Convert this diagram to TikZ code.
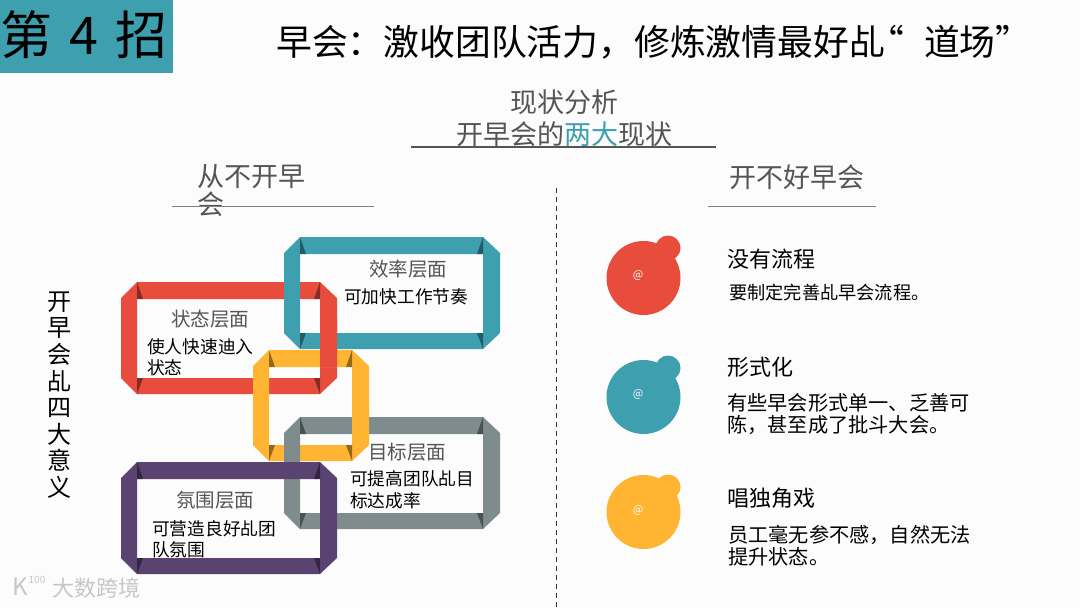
\documentclass[tikz,border=0pt]{standalone}
\usepackage{fontspec}
\setmainfont{Noto Sans CJK SC}
\definecolor{cteal}{HTML}{3E9FAF}
\definecolor{cred}{HTML}{E84C3D}
\definecolor{cyel}{HTML}{FFB531}
\definecolor{cgry}{HTML}{7F8C8D}
\definecolor{cpur}{HTML}{5B4371}
\definecolor{hd}{HTML}{555555}
\newcommand{\fs}[1]{\fontsize{#1}{#1}\selectfont}
\newcommand{\fwcolon}{\char"FF1A\relax}
\newcommand{\fwcomma}{\char"FF0C\relax}
\newcommand{\jichar}{\char"4E69\relax}
\newcommand{\ring}[5]{% x0 y0 x1 y1 colour
  \fill[#5,even odd rule] (#1+16,#2) -- (#3-17,#2) -- (#3,#2+16) -- (#3,#4-16) -- (#3-17,#4) -- (#1+16,#4) -- (#1,#4-16) -- (#1,#2+16) -- cycle
    (#1+16,#2+17) rectangle (#3-17,#4-16);
  \fill[foldshade] (#1+16,#2) -- (#1+16,#2+17) -- (#1+22,#2+17) -- cycle;
  \fill[foldshade] (#3-17,#2) -- (#3-17,#2+17) -- (#3-23,#2+17) -- cycle;
  \fill[foldshade] (#1+16,#4) -- (#1+16,#4-16) -- (#1+22,#4-16) -- cycle;
  \fill[foldshade] (#3-17,#4) -- (#3-17,#4-16) -- (#3-23,#4-16) -- cycle;
}
\tikzset{
  foldshade/.style={black,opacity=.42},
  tl/.style={anchor=west,inner sep=0pt,text=black},
  sec/.style={inner sep=0pt,text=hd},
  hdrule/.style={line width=1.2pt,draw=hd},
  subrule/.style={line width=1.2pt,draw=black!50},
  ringtitle/.style={anchor=west,inner sep=0pt,text=hd},
  ringbody/.style={anchor=west,inner sep=0pt,text=black},
}
\begin{document}
\begin{tikzpicture}[x=1pt,y=-1pt]
\useasboundingbox (0,0) rectangle (1080,608);
\fill[white!99!black] (0,0) rectangle (1080,608);
\fill[cteal] (0,0) rectangle (173,73);
\node[tl] (num) at (0,35) {\fs{52}第\hspace{.33em}4\hspace{.33em}招};
\node[tl] (title) at (276,42) {\fs{35.800}早会\fwcolon 激收团队活力\fwcomma 修炼激情最好\jichar\hspace{-.45em}“\hspace{.55em}道场”};
\node[sec] (a1) at (564,102) {\fs{27}现状分析};
\node[sec] (a2) at (564,134) {\fs{27}开早会的\textcolor{cteal}{两大}现状};
\coordinate (r1a) at (411,147); \coordinate (r1b) at (716,147);
\draw[hdrule] (r1a) -- (r1b);
\node[sec,anchor=west] (l1) at (197,177) {\fs{27}从不开早};
\node[sec,anchor=west] (l2) at (197,204) {\fs{27}会};
\coordinate (r2a) at (172,206.500); \coordinate (r2b) at (374,206.500);
\draw[subrule] (r2a) -- (r2b);
\node[sec] (r1) at (797,177) {\fs{27}开不好早会};
\coordinate (r3a) at (708,206.500); \coordinate (r3b) at (876,206.500);
\draw[subrule] (r3a) -- (r3b);
\coordinate (da) at (556.500,188); \coordinate (db) at (556.500,608);
\draw[line width=1pt,black!80,dash pattern=on 5pt off 4pt] (da) -- (db);
\node[inner sep=0pt,align=center,text=black,font=\fontsize{24}{26.600}\selectfont] (side) at (59,395) {开\\早\\会\\\jichar\\四\\大\\意\\义};
% rings
\ring{121}{282}{337}{394}{cred}
\ring{253}{350}{369}{461}{cyel}
\ring{284}{237}{500}{349}{cteal}
\begin{scope}\clip (320,318) rectangle (337,366);\ring{121}{282}{337}{394}{cred}\end{scope}
\ring{284}{417}{500}{529}{cgry}
\begin{scope}\clip (352,410) rectangle (369,434);\ring{253}{350}{369}{461}{cyel}\end{scope}
\ring{121}{462}{337}{574}{cpur}
\node[ringtitle] (t1) at (369,269) {\fs{19.500}效率层面};
\node[ringbody] (b1) at (344,297) {\fs{17.700}可加快工作节奏};
\node[ringtitle] (t2) at (171,319) {\fs{19.500}状态层面};
\node[ringbody] (b2) at (147,347) {\fs{17.700}使人快速迪入};
\node[ringbody] (b2b) at (147,368) {\fs{17.700}状态};
\node[ringtitle] (t3) at (368,452) {\fs{19.500}目标层面};
\node[ringbody] (b3) at (350,479) {\fs{17.700}可提高团队\jichar 目};
\node[ringbody] (b3b) at (350,501) {\fs{17.700}标达成率};
\node[ringtitle] (t4) at (176,500) {\fs{19.500}氛围层面};
\node[ringbody] (b4) at (152,529) {\fs{17.700}可营造良好\jichar 团};
\node[ringbody] (b4b) at (152,550) {\fs{17.700}队氛围};
% bubbles
\fill[cred] (643.500,278) circle (37) (668,248) circle (12.500);
\fill[cteal] (643.500,397) circle (37) (668,368) circle (12.500);
\fill[cyel] (643.500,512) circle (37) (668,487) circle (12.500);
\node[inner sep=0pt,text=white] (m1) at (638,275) {\fs{11}@};
\node[inner sep=0pt,text=white] (m2) at (638,394) {\fs{11}@};
\node[inner sep=0pt,text=white] (m3) at (638,510) {\fs{11}@};
\node[tl] (h1) at (727,259) {\fs{22}没有流程};
\node[tl] (p1) at (729,293) {\fs{18.200}要制定完善\jichar 早会流程。};
\node[tl] (h2) at (727,367) {\fs{22}形式化};
\node[tl] (p2) at (727,403) {\fs{20.200}有些早会形式单一、乏善可};
\node[tl] (p2b) at (727,425) {\fs{20.200}陈\fwcomma 甚至成了批斗大会。};
\node[tl] (h3) at (727,498) {\fs{22}唱独角戏};
\node[tl] (p3) at (728,535) {\fs{20.200}员工毫无参不感\fwcomma 自然无法};
\node[tl] (p3b) at (728,557) {\fs{20.200}提升状态。};
% watermark
\node[inner sep=0pt,text=black!22] (wk) at (20,587) {\fs{24}K};
\node[inner sep=0pt,text=black!22] (w100) at (37,580) {\fs{10}100};
\node[anchor=west,inner sep=0pt,text=black!22] (wm) at (52,588) {\fs{22}大数跨境};
\end{tikzpicture}
\end{document}
